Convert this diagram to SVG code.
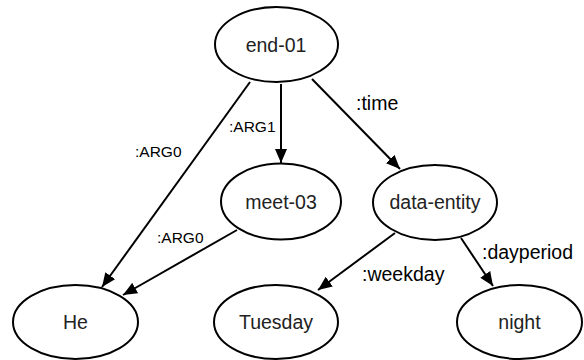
<svg xmlns="http://www.w3.org/2000/svg" width="584" height="360" viewBox="0 0 584 360">
<style>
.node ellipse{fill:#fff;stroke:#000;stroke-width:2}
.node text{font-family:"Liberation Sans",Arial,sans-serif;font-size:19.5px;fill:#222;text-anchor:middle}
.edge{stroke:#000;stroke-width:2;fill:none;marker-end:url(#arr)}
.lbl{font-family:"Liberation Sans",Arial,sans-serif;fill:#000}
.big{font-size:19.5px}
.small{font-size:15.5px}
</style>
<defs>
<marker id="arr" markerUnits="userSpaceOnUse" markerWidth="14" markerHeight="12" viewBox="0 0 14 12" refX="14" refY="6" orient="auto">
<path d="M0,0 L14,6 L0,12 z" fill="#000"/>
</marker>
</defs>
<rect width="584" height="360" fill="#fff"/>
<g id="connectors">
<line class="edge" x1="250" y1="82" x2="102" y2="287"/>
<line class="edge" x1="281" y1="84" x2="281" y2="163"/>
<line class="edge" x1="312" y1="79" x2="400" y2="169"/>
<line class="edge" x1="237" y1="230" x2="123" y2="295"/>
<line class="edge" x1="395" y1="233" x2="318" y2="290"/>
<line class="edge" x1="461" y1="238" x2="493" y2="286"/>
<text class="lbl small" x="135" y="157">:ARG0</text>
<text class="lbl small" x="229" y="132">:ARG1</text>
<text class="lbl small" x="157" y="243">:ARG0</text>
<text class="lbl big" x="356" y="110">:time</text>
<text class="lbl big" x="362" y="281">:weekday</text>
<text class="lbl big" x="482" y="259">:dayperiod</text>
</g>
<g id="end-01" class="node"><ellipse cx="276.5" cy="44.5" rx="61.5" ry="37.5"/><text x="276" y="52">end-01</text></g>
<g id="meet-03" class="node"><ellipse cx="281" cy="201.5" rx="60" ry="38"/><text x="281" y="209">meet-03</text></g>
<g id="data-entity" class="node"><ellipse cx="435" cy="202.5" rx="62" ry="37.5"/><text x="435" y="209">data-entity</text></g>
<g id="He" class="node"><ellipse cx="75.5" cy="322" rx="62.5" ry="37"/><text x="75.5" y="329">He</text></g>
<g id="Tuesday" class="node"><ellipse cx="276" cy="322" rx="62" ry="37"/><text x="276" y="329">Tuesday</text></g>
<g id="night" class="node"><ellipse cx="519.5" cy="322" rx="62.5" ry="37"/><text x="519.5" y="329">night</text></g>
</svg>
